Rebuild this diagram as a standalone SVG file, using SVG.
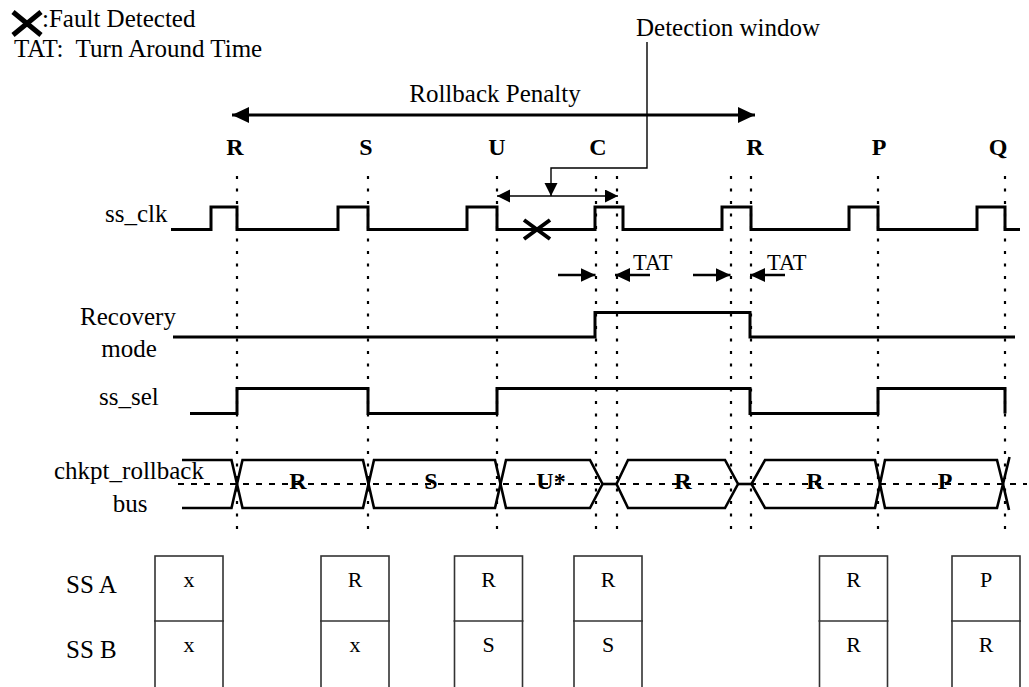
<svg xmlns="http://www.w3.org/2000/svg" width="1029" height="687" viewBox="0 0 1029 687">
<style>
text{font-family:"Liberation Serif","Times New Roman",serif;fill:#000}
.t{font-size:25px}
.b{font-size:24px;font-weight:bold;text-anchor:middle}
.bx{font-size:22px;text-anchor:middle}
.sig{fill:none;stroke:#000;stroke-width:3;stroke-linejoin:miter}
.bus{fill:none;stroke:#000;stroke-width:2.6}
.dot{stroke:#000;stroke-width:2.2;stroke-dasharray:3 9.5}
.box{fill:none;stroke:#333;stroke-width:1.6}
.thin{fill:none;stroke:#000;stroke-width:1.4}
</style>
<defs>
<marker id="ahBig" markerUnits="userSpaceOnUse" markerWidth="18" markerHeight="16" refX="17" refY="8" orient="auto-start-reverse"><path d="M0,0 L17,8 L0,16 Z" fill="#000"/></marker>
<marker id="ahMid" markerUnits="userSpaceOnUse" markerWidth="16" markerHeight="14" refX="15" refY="7" orient="auto-start-reverse"><path d="M0,0 L15,7 L0,14 Z" fill="#000"/></marker>
<marker id="ahSm" markerUnits="userSpaceOnUse" markerWidth="14" markerHeight="14" refX="13" refY="6.5" orient="auto-start-reverse"><path d="M0,0 L13,6.5 L0,13 Z" fill="#000"/></marker>
</defs>

<g id="legend">
<path d="M13,12 L41,35 M41,12 L13,35" stroke="#000" stroke-width="5"/>
<text class="t" x="42" y="27">:Fault Detected</text>
<text class="t" x="14" y="57">TAT:&#160; Turn Around Time</text>
</g>

<g id="detection-window-label">
<text class="t" x="636" y="36">Detection window</text>
</g>

<g id="rollback-penalty-label">
<text class="t" x="495" y="102" text-anchor="middle">Rollback Penalty</text>
</g>

<g id="phase-labels">
<text class="b" x="235" y="155">R</text>
<text class="b" x="366" y="155">S</text>
<text class="b" x="497" y="155">U</text>
<text class="b" x="598" y="155">C</text>
<text class="b" x="755" y="155">R</text>
<text class="b" x="879" y="155">P</text>
<text class="b" x="998" y="155">Q</text>
</g>

<g id="gridlines">
<line class="dot" x1="237" y1="176" x2="237" y2="530"/>
<line class="dot" x1="368" y1="176" x2="368" y2="530"/>
<line class="dot" x1="497" y1="176" x2="497" y2="530"/>
<line class="dot" x1="596" y1="176" x2="596" y2="530"/>
<line class="dot" x1="617" y1="176" x2="617" y2="530"/>
<line class="dot" x1="731" y1="176" x2="731" y2="530"/>
<line class="dot" x1="751" y1="176" x2="751" y2="530"/>
<line class="dot" x1="878" y1="176" x2="878" y2="530"/>
<line class="dot" x1="1005" y1="176" x2="1005" y2="532"/>
</g>

<g id="ss_clk">
<text class="t" x="105" y="222">ss_clk</text>
<path class="sig" d="M171,229.5 H211 V207 H237 V229.5 H338 V207 H368 V229.5 H467 V207 H497 V229.5 H595 V207 H623 V229.5 H722 V207 H751 V229.5 H849 V207 H878 V229.5 H977 V207 H1005 V229.5 H1020"/>
</g>

<g id="fault">
<path d="M524,220 L550,239 M550,220 L524,239" stroke="#000" stroke-width="4"/>
</g>

<g id="tat-labels">
<text x="633" y="270" style="font-size:22.5px">TAT</text>
<text x="767" y="270" style="font-size:22.5px">TAT</text>
</g>

<g id="recovery-mode">
<text class="t" x="128" y="325" text-anchor="middle">Recovery</text>
<text class="t" x="129" y="357" text-anchor="middle">mode</text>
<path class="sig" d="M173,337 H595 V312.5 H750 V337 H1015"/>
</g>

<g id="ss_sel">
<text class="t" x="99" y="405">ss_sel</text>
<path class="sig" d="M190,413.5 H237 V388.5 H368 V413.5 H497 V388.5 H750 V413.5 H878 V388.5 H1005 V413.5"/>
</g>

<g id="chkpt_rollback-bus">
<line x1="178" y1="484" x2="1027" y2="484" stroke="#000" stroke-width="2" stroke-dasharray="6 7"/>
<text class="t" x="129" y="479" text-anchor="middle">chkpt_rollback</text>
<text class="t" x="130" y="512" text-anchor="middle">bus</text>
<path class="bus" d="M182,460 H231.5 L237,484 L231.5,508 H182"/>
<path class="bus" d="M237,484 L242.5,460 H363 L368.5,484 L363,508 H242.5 Z"/>
<path class="bus" d="M368.5,484 L374,460 H495 L500.5,484 L495,508 H374 Z"/>
<path class="bus" d="M500.5,484 L506,460 H590 L602.5,484 L590,508 H506 Z"/>
<path class="bus" d="M602.5,484 H616.5"/>
<path class="bus" d="M616.5,484 L628,460 H725 L738,484 L725,508 H628 Z"/>
<path class="bus" d="M738,484 H751.5"/>
<path class="bus" d="M751.5,484 L765,460 H875 L880,484 L875,508 H765 Z"/>
<path class="bus" d="M880,484 L885,460 H997 L1003,484 L997,508 H885 Z"/>
<path class="bus" d="M1003,484 L1009.5,457 M1003,484 L1009,510"/>
<text class="b" x="298" y="489">R</text>
<text class="b" x="431" y="489">S</text>
<text class="b" x="551" y="489">U*</text>
<text class="b" x="683" y="489">R</text>
<text class="b" x="815" y="489">R</text>
<text class="b" x="945" y="489">P</text>
</g>

<g id="ss-labels">
<text class="t" x="66" y="593">SS A</text>
<text class="t" x="66" y="658">SS B</text>
</g>

<g id="box-1">
<rect class="box" x="155" y="556" width="68" height="140"/>
<line class="box" x1="154" y1="621" x2="224" y2="621"/>
<text class="bx" x="189" y="587">x</text>
<text class="bx" x="189" y="652">x</text>
</g>
<g id="box-2">
<rect class="box" x="321" y="556" width="68" height="140"/>
<line class="box" x1="320" y1="621" x2="390" y2="621"/>
<text class="bx" x="355" y="587">R</text>
<text class="bx" x="355" y="652">x</text>
</g>
<g id="box-3">
<rect class="box" x="454.5" y="556" width="68" height="140"/>
<line class="box" x1="453.5" y1="621" x2="523.5" y2="621"/>
<text class="bx" x="488.5" y="587">R</text>
<text class="bx" x="488.5" y="652">S</text>
</g>
<g id="box-4">
<rect class="box" x="574" y="556" width="68" height="140"/>
<line class="box" x1="573" y1="621" x2="643" y2="621"/>
<text class="bx" x="608" y="587">R</text>
<text class="bx" x="608" y="652">S</text>
</g>
<g id="box-5">
<rect class="box" x="819.5" y="556" width="68" height="140"/>
<line class="box" x1="818.5" y1="621" x2="888.5" y2="621"/>
<text class="bx" x="853.5" y="587">R</text>
<text class="bx" x="853.5" y="652">R</text>
</g>
<g id="box-6">
<rect class="box" x="952" y="556" width="68" height="140"/>
<line class="box" x1="951" y1="621" x2="1021" y2="621"/>
<text class="bx" x="986" y="587">P</text>
<text class="bx" x="986" y="652">R</text>
</g>

<g id="connectors">
<line x1="232" y1="115" x2="755" y2="115" stroke="#000" stroke-width="3" marker-start="url(#ahBig)" marker-end="url(#ahBig)"/>
<path class="thin" d="M647,42 V168 H551 V196" marker-end="url(#ahSm)"/>
<line x1="497" y1="196" x2="618" y2="196" stroke="#000" stroke-width="1.6" marker-start="url(#ahSm)" marker-end="url(#ahSm)"/>
<line x1="558" y1="275" x2="595.5" y2="275" stroke="#000" stroke-width="2.5" marker-end="url(#ahMid)"/>
<line x1="650" y1="275" x2="615" y2="275" stroke="#000" stroke-width="2.5" marker-end="url(#ahMid)"/>
<line x1="693" y1="275" x2="730.5" y2="275" stroke="#000" stroke-width="2.5" marker-end="url(#ahMid)"/>
<line x1="785" y1="275" x2="750" y2="275" stroke="#000" stroke-width="2.5" marker-end="url(#ahMid)"/>
</g>
</svg>
